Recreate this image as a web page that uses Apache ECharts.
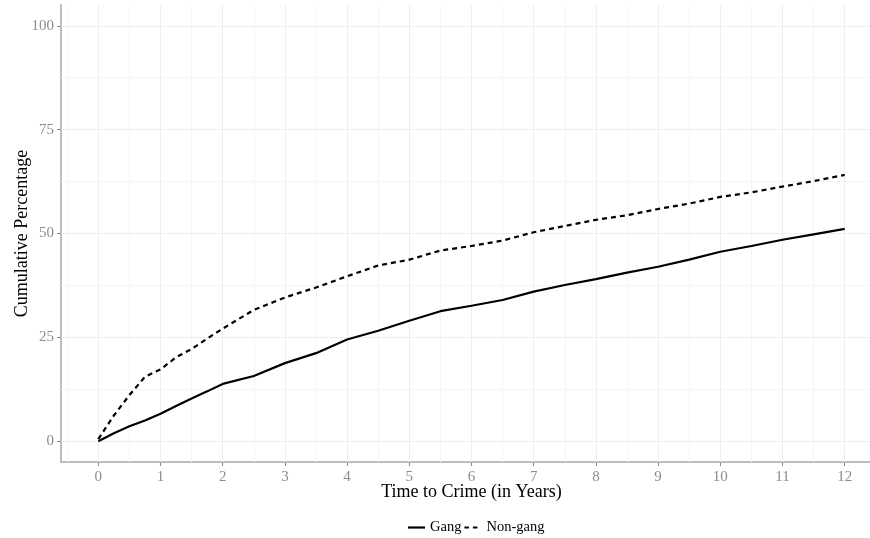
<!DOCTYPE html>
<html>
<head>
<meta charset="utf-8">
<script src="https://cdn.jsdelivr.net/npm/echarts@6/dist/echarts.min.js"></script>
<style>
html,body{margin:0;padding:0;background:#fff;overflow:hidden;width:870px;height:538px;}
#chart{width:890px;height:538px;}
</style>
</head>
<body>
<div id="chart"></div>
<script>
// Data
var times   = [0, 0.25, 0.5, 0.75, 1, 1.25, 1.5, 1.75, 2, 2.5, 3, 3.5, 4, 4.5, 5, 5.5, 6, 6.5, 7, 7.5, 8, 8.5, 9, 9.5, 10, 10.5, 11, 11.5, 12];
var gang    = [0, 1.9, 3.6, 5.0, 6.6, 8.5, 10.3, 12.0, 13.8, 15.7, 18.8, 21.2, 24.5, 26.6, 29.0, 31.3, 32.6, 34.0, 36.0, 37.6, 39.0, 40.6, 42.0, 43.7, 45.6, 47.0, 48.5, 49.8, 51.1];
var nongang = [0.5, 6.2, 11.1, 15.5, 17.3, 20.2, 22.2, 24.7, 27.1, 31.6, 34.6, 37.0, 39.7, 42.3, 43.7, 45.9, 47.0, 48.3, 50.3, 51.8, 53.3, 54.4, 55.9, 57.2, 58.8, 59.9, 61.3, 62.6, 64.1];
var xTicks  = [0,1,2,3,4,5,6,7,8,9,10,11,12];
var xMinor  = [-0.5,0.5,1.5,2.5,3.5,4.5,5.5,6.5,7.5,8.5,9.5,10.5,11.5,12.5];
var yTicks  = [0,25,50,75,100];
var yMinor  = [12.5,37.5,62.5,87.5];
var seriesNames = ['Gang', 'Non-gang'];

function pairs(xs, ys){ return xs.map(function(x,i){ return [x, ys[i]]; }); }

var font = '"Liberation Serif", "Times New Roman", serif';
var majorColor = '#eeeeee', minorColor = '#f5f5f5';
var gridLines = []
  .concat(xMinor.map(function(v){ return { xAxis: v, lineStyle: { color: minorColor } }; }))
  .concat(yMinor.map(function(v){ return { yAxis: v, lineStyle: { color: minorColor } }; }))
  .concat(xTicks.map(function(v){ return { xAxis: v, lineStyle: { color: majorColor } }; }))
  .concat(yTicks.map(function(v){ return { yAxis: v, lineStyle: { color: majorColor } }; }));

var chart = echarts.init(document.getElementById('chart'));
chart.setOption({
  animation: false,
  backgroundColor: '#ffffff',
  grid: { left: 61, top: 5, width: 821, height: 457, containLabel: false, outerBoundsMode: 'none' },
  legend: {
    data: [
      { name: seriesNames[0], icon: 'path://M0,0H17V2.2H0Z' },
      { name: seriesNames[1], icon: 'path://M0,0H4.5V2.2H0Z M8.5,0H13V2.2H8.5Z M16.95,0H17V2.2H16.95Z' }
    ],
    left: 403, top: 515,
    itemWidth: 17, itemHeight: 2.2, itemGap: 3,
    itemStyle: { color: '#000' },
    textStyle: { fontFamily: font, fontSize: 14.5, color: '#000' }
  },
  xAxis: {
    type: 'value', min: -0.6, max: 12.6,
    name: 'Time to Crime (in Years)', nameLocation: 'middle', nameGap: 21, nameMoveOverlap: false,
    nameTextStyle: { fontFamily: font, fontSize: 18, color: '#000' },
    axisLine: { show: true, onZero: false, lineStyle: { color: '#bdbdbd', width: 2 } },
    axisTick: { show: true, length: 4, customValues: xTicks, lineStyle: { color: '#8c8c8c', width: 1 } },
    axisLabel: { customValues: xTicks, margin: 8, fontFamily: font, fontSize: 15, color: '#8c8c8c' },
    splitLine: { show: false }
  },
  yAxis: {
    type: 'value', min: -5, max: 105,
    name: 'Cumulative Percentage', nameLocation: 'middle', nameGap: 30, nameMoveOverlap: false,
    nameTextStyle: { fontFamily: font, fontSize: 18, color: '#000' },
    axisLine: { show: true, onZero: false, lineStyle: { color: '#bdbdbd', width: 2 } },
    axisTick: { show: true, length: 4, customValues: yTicks, lineStyle: { color: '#8c8c8c', width: 1 } },
    axisLabel: { customValues: yTicks, margin: 7, fontFamily: font, fontSize: 15, color: '#8c8c8c' },
    splitLine: { show: false }
  },
  series: [
    {
      name: 'grid', type: 'line', data: [], silent: true, z: 1,
      markLine: {
        silent: true, symbol: 'none', z: 1, animation: false,
        label: { show: false },
        lineStyle: { type: 'solid', width: 1 },
        data: gridLines
      }
    },
    {
      name: seriesNames[0], type: 'line', data: pairs(times, gang),
      symbol: 'none', smooth: false, z: 3,
      lineStyle: { color: '#000', width: 2.2, type: 'solid' },
      itemStyle: { color: '#000' }
    },
    {
      name: seriesNames[1], type: 'line', data: pairs(times, nongang),
      symbol: 'none', smooth: false, z: 3,
      lineStyle: { color: '#000', width: 2.2, type: [5, 4] },
      itemStyle: { color: '#000' }
    }
  ]
});
</script>
</body>
</html>
